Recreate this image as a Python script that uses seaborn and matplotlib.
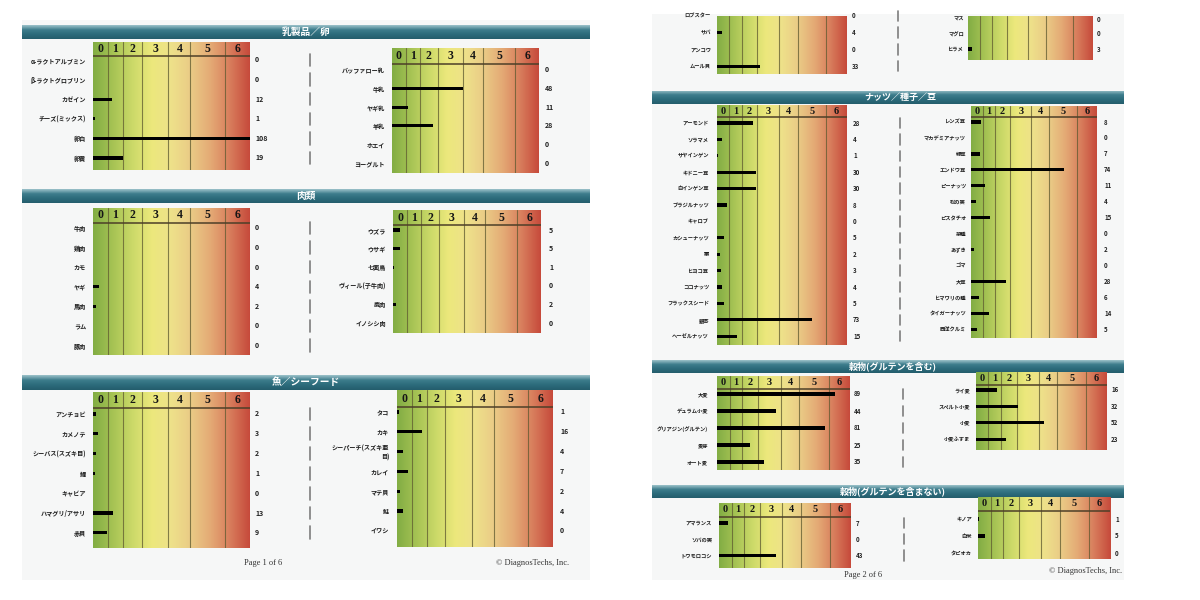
import numpy as np
import seaborn as sns
from matplotlib import pyplot as plt
from matplotlib.colors import LinearSegmentedColormap
from matplotlib.lines import Line2D
from matplotlib.patches import Rectangle
from matplotlib.transforms import blended_transform_factory

# Dados - página 1
laticinios_esq = ['α-ラクトアルブミン', 'β-ラクトグロブリン', 'カゼイン', 'チーズ(ミックス)', '卵白', '卵黄']
laticinios_esq_val = [0, 0, 12, 1, 108, 19]
laticinios_dir = ['バッファロー乳', '牛乳', 'ヤギ乳', '羊乳', 'ホエイ', 'ヨーグルト']
laticinios_dir_val = [0, 48, 11, 28, 0, 0]

carnes_esq = ['牛肉', '鶏肉', 'カモ', 'ヤギ', '馬肉', 'ラム', '豚肉']
carnes_esq_val = [0, 0, 0, 4, 2, 0, 0]
carnes_dir = ['ウズラ', 'ウサギ', '七面鳥', 'ヴィール(子牛肉)', '鹿肉', 'イノシシ肉']
carnes_dir_val = [5, 5, 1, 0, 2, 0]

peixes_esq = ['アンチョビ', 'カメノテ', 'シーバス(スズキ目)', '鯉', 'キャビア', 'ハマグリ/アサリ', '赤貝']
peixes_esq_val = [2, 3, 2, 1, 0, 13, 9]
peixes_dir = ['タコ', 'カキ', 'シーパーチ(スズキ亜\n目)', 'カレイ', 'マテ貝', '鮭', 'イワシ']
peixes_dir_val = [1, 16, 4, 7, 2, 4, 0]

# Dados - página 2
peixes2_esq = ['ロブスター', 'サバ', 'アンコウ', 'ムール貝']
peixes2_esq_val = [0, 4, 0, 33]
peixes2_dir = ['マス', 'マグロ', 'ヒラメ']
peixes2_dir_val = [0, 0, 3]

nozes_esq = ['アーモンド', 'ソラマメ', 'サヤインゲン', 'キドニー豆', '白インゲン豆', 'ブラジルナッツ', 'キャロブ',
             'カシューナッツ', '栗', 'ヒヨコ豆', 'ココナッツ', 'フラックスシード', '銀杏', 'ヘーゼルナッツ']
nozes_esq_val = [28, 4, 1, 30, 30, 8, 0, 5, 2, 3, 4, 5, 73, 15]
nozes_dir = ['レンズ豆', 'マカデミアナッツ', '緑豆', 'エンドウ豆', 'ピーナッツ', '松の実', 'ピスタチオ', '菜種',
             'あずき', 'ゴマ', '大豆', 'ヒマワリの種', 'タイガーナッツ', '西洋クルミ']
nozes_dir_val = [8, 0, 7, 74, 11, 4, 15, 0, 2, 0, 28, 6, 14, 5]

gluten_esq = ['大麦', 'デュラム小麦', 'グリアジン(グルテン)', '麦芽', 'オート麦']
gluten_esq_val = [89, 44, 81, 25, 35]
gluten_dir = ['ライ麦', 'スペルト小麦', '小麦', '小麦ふすま']
gluten_dir_val = [16, 32, 52, 23]

sem_gluten_esq = ['アマランス', 'ソバの実', 'トウモロコシ']
sem_gluten_esq_val = [7, 0, 43]
sem_gluten_dir = ['キノア', '白米', 'タピオカ']
sem_gluten_dir_val = [1, 5, 0]

# Classes da escala e seus limites
classes = ['0', '1', '2', '3', '4', '5', '6']
limites_classes = [0, 9.5, 19, 31, 48, 62, 84, 100]

W, H = 1200, 600

sns.set_theme(style='white')
plt.rcParams['font.family'] = ['Noto Sans CJK JP', 'DejaVu Sans']

# Gradiente verde -> amarelo -> vermelho
cmap_escala = LinearSegmentedColormap.from_list(
    'escala', ['#82ad44', '#a6c354', '#cbd968', '#ece87c', '#eee18a', '#eacb86',
               '#e4aa75', '#d87d5c', '#c64a3b'])
cmap_faixa = LinearSegmentedColormap.from_list('faixa', ['#9cc2ca', '#3d7d8c', '#2c6b7b', '#245d6c'])


def caixa(x0, y0, x1, y1):
    # Converte pixels (origem no topo) para fração da figura
    return [x0 / W, 1 - y1 / H, (x1 - x0) / W, (y1 - y0) / H]


def faixa_titulo(fig, titulo, x0, x1, y0, y1, centro, tamanho=7):
    ax = fig.add_axes(caixa(x0, y0, x1, y1))
    ax.imshow(np.linspace(0, 1, 64)[:, None], aspect='auto', cmap=cmap_faixa, extent=(0, 1, 0, 1))
    ax.axis('off')
    ax.text((centro - x0) / (x1 - x0), 0.5, titulo, transform=ax.transAxes, ha='center', va='center',
            color='white', fontsize=tamanho, fontweight='bold', style='italic')


def painel(fig, rotulos, valores, x0, x1, topo, linha, primeira, passo, base, rotulo_x, valor_x,
           cabecalho=True, fs=4.4, fs_num=8.5):
    ax = fig.add_axes(caixa(x0, topo, x1, base))
    sns.barplot(x=valores, y=rotulos, orient='h', color='black', width=3.2 / passo,
                errorbar=None, linewidth=0, ax=ax, zorder=3)

    y_topo = (topo - primeira) / passo
    y_base = (base - primeira) / passo
    ax.imshow(np.linspace(0, 1, 256)[None, :], extent=(0, 100, y_base, y_topo), aspect='auto',
              cmap=cmap_escala, zorder=0, interpolation='bilinear')

    # Linhas das classes
    for lim in limites_classes[1:-1]:
        ax.axvline(lim, color='#5e5a30', lw=0.8, alpha=0.75, zorder=1)

    if cabecalho:
        y_linha = (linha - primeira) / passo
        ax.axhline(y_linha, color='#4d3f28', lw=1.1, zorder=2)
        for i, c in enumerate(classes):
            ax.text((limites_classes[i] + limites_classes[i + 1]) / 2, (y_topo + y_linha) / 2, c,
                    ha='center', va='center', fontsize=fs_num, fontweight='bold',
                    family='Liberation Serif', color='#161616')

    ax.set_xlim(0, 100)
    ax.set_ylim(y_base, y_topo)
    ax.set_xticks([])
    ax.set_xlabel('')
    ax.set_ylabel('')
    ax.tick_params(axis='y', length=0, pad=(x0 - rotulo_x) * 0.72, labelsize=fs)
    for t in ax.get_yticklabels():
        t.set_fontweight('bold')
        t.set_color('#1c1c1c')
    for s in ax.spines.values():
        s.set_visible(False)

    # Valores à direita
    tr = blended_transform_factory(fig.transFigure, ax.transData)
    for i, v in enumerate(valores):
        ax.text(valor_x / W, i, str(v), transform=tr, ha='left', va='center',
                fontsize=fs + 0.6, fontweight='bold', color='#222222')
    return ax


def divisoria(fig, ax, x, n):
    tr = blended_transform_factory(fig.transFigure, ax.transData)
    for i in range(n):
        ax.add_line(Line2D([x / W, x / W], [i - 0.32, i + 0.32], transform=tr, color='#7d7d7d',
                           lw=1.2, clip_on=False))


fig = plt.figure(figsize=(12, 6), dpi=100)
fig.patch.set_facecolor('white')

# Folhas de papel
fig.add_artist(Rectangle((22 / W, 1 - 580 / H), 568 / W, 560 / H, transform=fig.transFigure,
                         facecolor='#f6f7f7', edgecolor='none', zorder=-5))
fig.add_artist(Rectangle((652 / W, 1 - 580 / H), 472 / W, 566 / H, transform=fig.transFigure,
                         facecolor='#f6f7f7', edgecolor='none', zorder=-5))

# Página 1
faixa_titulo(fig, '乳製品／卵', 22, 590, 25, 39, 306)
ax = painel(fig, laticinios_esq, laticinios_esq_val, 93, 250, 42, 56, 60, 19.6, 170, 86, 255)
painel(fig, laticinios_dir, laticinios_dir_val, 392, 539, 48, 64, 70, 18.6, 173, 385, 545)
divisoria(fig, ax, 310, 6)

faixa_titulo(fig, '肉類', 22, 590, 189, 203, 306)
ax = painel(fig, carnes_esq, carnes_esq_val, 93, 250, 208, 223, 228, 19.6, 355, 86, 255)
painel(fig, carnes_dir, carnes_dir_val, 393, 541, 210, 225, 230, 18.6, 333, 386, 549)
divisoria(fig, ax, 310, 7)

faixa_titulo(fig, '魚／シーフード', 22, 590, 375, 390, 306)
ax = painel(fig, peixes_esq, peixes_esq_val, 93, 250, 392, 408, 414, 19.8, 548, 86, 255)
painel(fig, peixes_dir, peixes_dir_val, 397, 553, 390, 407, 412, 19.8, 547, 389, 560)
divisoria(fig, ax, 310, 7)

fig.text(263 / W, 1 - 563 / H, 'Page 1 of 6', ha='center', va='center', fontsize=6,
         family='Liberation Serif', color='#333333')
fig.text(533 / W, 1 - 563 / H, '© DiagnosTechs, Inc.', ha='center', va='center', fontsize=6,
         family='Liberation Serif', color='#333333')

# Página 2
ax = painel(fig, peixes2_esq, peixes2_esq_val, 717, 847, 16, 16, 16, 16.7, 74, 711, 852,
            cabecalho=False, fs=3.8)
painel(fig, peixes2_dir, peixes2_dir_val, 968, 1093, 16, 16, 19, 15, 60, 964, 1097,
       cabecalho=False, fs=3.8)
divisoria(fig, ax, 898, 4)

faixa_titulo(fig, 'ナッツ／種子／豆', 652, 1124, 91, 104, 900, tamanho=6.5)
ax = painel(fig, nozes_esq, nozes_esq_val, 717, 847, 105, 117, 123, 16.4, 345, 709, 853,
            fs=3.8, fs_num=7.5)
painel(fig, nozes_dir, nozes_dir_val, 971, 1097, 106, 117, 122, 15.95, 338, 966, 1104,
       fs=3.8, fs_num=7.5)
divisoria(fig, ax, 900, 14)

faixa_titulo(fig, '穀物(グルテンを含む)', 652, 1124, 360, 373, 893, tamanho=6.5)
ax = painel(fig, gluten_esq, gluten_esq_val, 717, 850, 376, 389, 394, 17, 470, 708, 854,
            fs=3.8, fs_num=7.5)
painel(fig, gluten_dir, gluten_dir_val, 976, 1107, 372, 385, 390, 16.4, 450, 970, 1111,
       fs=3.8, fs_num=7.5)
divisoria(fig, ax, 903, 5)

faixa_titulo(fig, '穀物(グルテンを含まない)', 652, 1124, 485, 498, 893, tamanho=6.5)
ax = painel(fig, sem_gluten_esq, sem_gluten_esq_val, 719, 851, 503, 517, 523, 16.2, 568, 712, 856,
            fs=3.8, fs_num=7.5)
painel(fig, sem_gluten_dir, sem_gluten_dir_val, 978, 1110, 497, 511, 519, 17, 559, 972, 1115,
       fs=3.8, fs_num=7.5)
divisoria(fig, ax, 904, 3)

fig.text(863 / W, 1 - 575 / H, 'Page 2 of 6', ha='center', va='center', fontsize=6,
         family='Liberation Serif', color='#333333')
fig.text(1122 / W, 1 - 571 / H, '© DiagnosTechs, Inc.', ha='right', va='center', fontsize=6,
         family='Liberation Serif', color='#333333')

fig.savefig('out.png', dpi=100)
